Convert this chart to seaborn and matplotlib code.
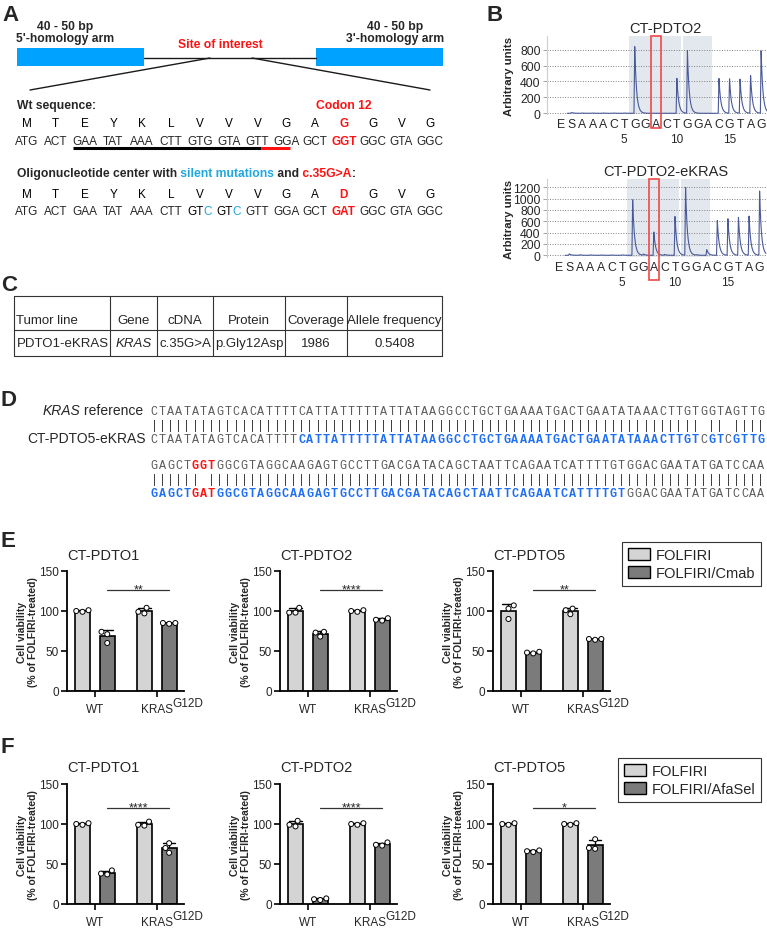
import numpy as np
import pandas as pd
import matplotlib
matplotlib.use('Agg')
import matplotlib.pyplot as plt
import matplotlib.transforms as mtransforms
from matplotlib.patches import Rectangle, Patch
import seaborn as sns

W, H = 767, 929

# ---------------- data ----------------
# A: donor oligo design around KRAS codon 12
arm_size = "40 - 50 bp"
wt_codons = ["ATG", "ACT", "GAA", "TAT", "AAA", "CTT", "GTG", "GTA", "GTT", "GGA", "GCT", "GGT", "GGC", "GTA", "GGC"]
wt_aa = ["M", "T", "E", "Y", "K", "L", "V", "V", "V", "G", "A", "G", "G", "V", "G"]
oligo_codons = ["ATG", "ACT", "GAA", "TAT", "AAA", "CTT", "GTC", "GTC", "GTT", "GGA", "GCT", "GAT", "GGC", "GTA", "GGC"]
oligo_aa = ["M", "T", "E", "Y", "K", "L", "V", "V", "V", "G", "A", "D", "G", "V", "G"]
codon12_idx = 11
guide_nt = (6, 25)      # protospacer, nucleotide index in the wt row
pam_nt = (26, 28)

# B: pyrograms
dispensation = list("ESAAACTGGACTGGACGTAG")
disp_pos = list(range(-1, 19))
peaks_pdto2 = [0, 10, 4, 3, 3, 3, 3, 840, 0, 0, 0, 440, 800, 0, 0, 440, 440, 430, 480, 790]
peaks_pdto2_ekras = [0, 25, 10, 8, 6, 6, 8, 980, 20, 410, 15, 685, 1210, 10, 100, 615, 655, 670, 700, 1140]
variable_region = [(5.5, 10.42), (10.58, 13.3)]
mutated_disp = 8

# C: NGS table
table_header = ["Tumor line", "Gene", "cDNA", "Protein", "Coverage", "Allele frequency"]
table_row = ["PDTO1-eKRAS", "KRAS", "c.35G>A", "p.Gly12Asp", "1986", "0.5408"]

# D: alignment
kras_ref = ("CTAATATAGTCACATTTTCATTATTTTTATTATAAGGCCTGCTGAAAATGACTGAATATAAACTTGTGGTAGTTG"
            "GAGCTGGTGGCGTAGGCAAGAGTGCCTTGACGATACAGCTAATTCAGAATCATTTTGTGGACGAATATGATCCAA")
pdto5_ekras = ("CTAATATAGTCACATTTTCATTATTTTTATTATAAGGCCTGCTGAAAATGACTGAATATAAACTTGTCGTCGTTG"
               "GAGCTGATGGCGTAGGCAAGAGTGCCTTGACGATACAGCTAATTCAGAATCATTTTGTGGACGAATATGATCCAA")
donor_span = (18, 132)
codon12_nt = (80, 82)

# E / F: cell viability, replicates per bar (WT-FOLFIRI, WT-combo, KRAS-FOLFIRI, KRAS-combo)
genotypes = ["WT", "KRAS"]
organoids = ["CT-PDTO1", "CT-PDTO2", "CT-PDTO5"]
e_treatments = ["FOLFIRI", "FOLFIRI/Cmab"]
f_treatments = ["FOLFIRI", "FOLFIRI/AfaSel"]
e_pdto1 = [[101, 99, 100], [74, 60, 71], [104, 97, 99], [85, 84, 85]]
e_pdto2 = [[104, 98, 98], [73, 74, 68], [101, 100, 99], [88, 89, 91]]
e_pdto5 = [[107, 103, 90], [49, 47, 48], [103, 101, 96], [65, 64, 65]]
f_pdto1 = [[101, 99, 100], [42, 37, 38], [103, 98, 99], [76, 70, 64]]
f_pdto2 = [[104, 97, 99], [6, 5, 7], [101, 100, 99], [77, 74, 73]]
f_pdto5 = [[100, 99, 101], [66, 65, 67], [100, 99, 101], [81, 70, 69]]
e_stars = ["**", "****", "**"]
f_stars = ["****", "****", "*"]
e_ylabels = ["Cell viability\n(% of FOLFIRI-treated)", "Cell viability\n(% of FOLFIRI-treated)",
             "Cell viability\n(% Of FOLFIRI-treated)"]
f_ylabels = ["Cell viability\n(% of FOLFIRI-treated)"] * 3

# ---------------- style ----------------
sns.set_theme(style="ticks")
plt.rcParams['font.family'] = ['Liberation Sans', 'DejaVu Sans']
RED = '#ff1111'
CYAN = '#1ea7e1'
ARM_BLUE = '#00a2ff'
SEQ_BLUE = '#1f6ff5'
SEQ_GRAY = '#5a5a5a'
bar_colors = ['#d4d4d4', '#7b7b7b']

fig = plt.figure(figsize=(W / 100, H / 100), dpi=100)
fig.patch.set_facecolor('white')


def px_axes(x, y, w, h):
    return fig.add_axes([x / W, 1 - (y + h) / H, w / W, h / H])


canvas = px_axes(0, 0, W, H)
canvas.set_xlim(0, W)
canvas.set_ylim(H, 0)
canvas.axis('off')


def chained(ax, x, y, parts, ha='left', **kw):
    # multi-coloured text: invisible full string fixes the anchor, parts follow each other
    full = ''.join(p[0] for p in parts)
    anchor = ax.text(x, y, full, ha=ha, va='baseline', alpha=0, **kw)
    prev, xy, out = anchor, (0, 0), []
    for s, style in parts:
        t = ax.annotate(s, xy=xy, xycoords=prev, ha='left', va='bottom', **{**kw, **style})
        out.append(t)
        prev, xy = t, (1, 0)
    return out


for letter, (lx, ly) in {"A": (2, 21), "B": (486, 21), "C": (1, 291),
                         "D": (1, 406), "E": (1, 547), "F": (1, 753)}.items():
    canvas.text(lx, ly, letter, fontsize=16, fontweight='bold', va='baseline')

# ---------------- A ----------------
lab_kw = dict(fontsize=8.7, fontweight='bold', va='baseline')
for x in (17, 316):
    canvas.add_patch(Rectangle((x, 49), 127, 18, color=ARM_BLUE, lw=0))
canvas.plot([144, 316], [59, 59], color='k', lw=1)
canvas.plot([210, 30], [59, 91], color='k', lw=1)
canvas.plot([252, 430], [59, 91], color='k', lw=1)
for cx, arm in ((65, "5'-homology arm"), (395, "3'-homology arm")):
    canvas.text(cx, 30, arm_size, ha='center', **lab_kw)
    canvas.text(cx, 41.5, arm, ha='center', **lab_kw)
canvas.text(220, 48, "Site of interest", ha='center', color=RED, **lab_kw)

codon_x0, codon_pitch, nt_w = 27, 28.8, 7.7
canvas.text(17, 109, "Wt sequence:", **lab_kw)
canvas.text(codon_x0 + codon12_idx * codon_pitch, 109, "Codon 12", ha='center', color=RED, **lab_kw)
chained(canvas, 17, 177, [("Oligonucleotide center with", {}), (" silent mutations", {'color': CYAN}),
                          (" and", {}), (" c.35G>A", {'color': RED}), (":", {})],
        fontsize=8.7, fontweight='bold')


def aa_row(aas, y):
    for i, aa in enumerate(aas):
        hl = i == codon12_idx
        canvas.text(codon_x0 + i * codon_pitch, y, aa, ha='center', va='baseline', fontsize=8.5,
                    color=RED if hl else 'black', fontweight='bold' if hl else 'normal')


def codon_row(codons, y, ref=None):
    for i, codon in enumerate(codons):
        x = codon_x0 + i * codon_pitch
        if i == codon12_idx:
            canvas.text(x, y, codon, ha='center', va='baseline', fontsize=8.5, color=RED, fontweight='bold')
            continue
        flags = [ref is not None and c != r for c, r in zip(codon, ref[i] if ref else codon)]
        parts = []
        for c, f in zip(codon, flags):
            if parts and parts[-1][1] == f:
                parts[-1][0] += c
            else:
                parts.append([c, f])
        if len(parts) == 1:
            canvas.text(x, y, codon, ha='center', va='baseline', fontsize=8.5)
        else:
            chained(canvas, x, y, [(s, {'color': CYAN if f else 'black'}) for s, f in parts],
                    ha='center', fontsize=8.5)


aa_row(wt_aa, 126.5)
codon_row(wt_codons, 144.5)
aa_row(oligo_aa, 197.5)
codon_row(oligo_codons, 214.5, ref=wt_codons)


def nt_x(n):
    return codon_x0 + (n // 3) * codon_pitch + (n % 3 - 1) * nt_w


for (a, b), c in ((guide_nt, 'black'), (pam_nt, RED)):
    canvas.plot([nt_x(a) - nt_w / 2, nt_x(b) + nt_w / 2], [148.5, 148.5], color=c, lw=2.2,
                solid_capstyle='butt')

# ---------------- B ----------------


def pyrogram(ax, heights, title, xlim, ylim, yticks, box_bottom):
    x = np.linspace(-0.4, 18.6, 4000)
    trace = np.zeros_like(x)
    for p, h in zip(disp_pos, heights):
        d = x - p
        trace += h * np.where(d < -0.07, 0, np.where(d < 0, (d + 0.07) / 0.07, np.exp(-d / 0.17)))
    for a, b in variable_region:
        ax.axvspan(a, b, color='#e3e7ee', lw=0, zorder=0)
    ax.plot(x, trace, color='#4a5a98', lw=0.8, zorder=2)
    ax.set_xlim(*xlim)
    ax.set_ylim(*ylim)
    ax.set_yticks(yticks)
    ax.xaxis.remove_overlapping_locs = False
    ax.set_xticks(disp_pos, labels=dispensation)
    ax.set_xticks(np.arange(5, 19, 5), labels=[str(v) for v in np.arange(5, 19, 5)], minor=True)
    ax.tick_params(axis='x', which='major', length=0, pad=3.0, labelsize=8.8)
    ax.tick_params(axis='x', which='minor', length=0, pad=13.5, labelsize=8.5)
    ax.tick_params(axis='y', length=3, width=0.6, color='#999999', pad=1.5, labelsize=8.8)
    ax.set_axisbelow(True)
    ax.yaxis.grid(True, ls=(0, (1, 1.6)), color='#808080', lw=0.7)
    ax.xaxis.grid(False)
    for s in ('top', 'right', 'bottom'):
        ax.spines[s].set_visible(False)
    ax.spines['left'].set_color('#cfcfcf')
    ax.spines['left'].set_linewidth(0.8)
    ax.set_facecolor('none')
    ax.set_title(title, fontsize=10.5, x=0.54, pad=3)
    ax.set_ylabel("Arbitrary units", fontsize=8.2, fontweight='bold')
    ax.yaxis.set_label_coords(-0.15, 0.5)
    trans = mtransforms.blended_transform_factory(ax.transData, ax.transAxes)
    ax.add_patch(Rectangle((mutated_disp - 0.5, box_bottom), 1, 1 - box_bottom, transform=trans,
                           fill=False, ec='#f04848', lw=1.2, clip_on=False, zorder=5))


ax_b1 = px_axes(547, 37, 220, 78)
pyrogram(ax_b1, peaks_pdto2, "CT-PDTO2", (-2.33, 18.56), (-9, 972), [0, 200, 400, 600, 800], -0.18)
ax_b2 = px_axes(547, 180, 220, 78)
pyrogram(ax_b2, peaks_pdto2_ekras, "CT-PDTO2-eKRAS", (-2.1, 18.7), (-30, 1345),
         [0, 200, 400, 600, 800, 1000, 1200], -0.30)

# ---------------- C ----------------
col_edges = [14, 110, 157, 213, 285, 347, 442]
row_edges = [297, 331, 357]
for x in col_edges:
    canvas.plot([x, x], [row_edges[0], row_edges[-1]], color='#333333', lw=0.8)
for y in row_edges:
    canvas.plot([col_edges[0], col_edges[-1]], [y, y], color='#333333', lw=0.8)
for row, y in ((table_header, 323.7), (table_row, 346.7)):
    for j, val in enumerate(row):
        if j == 0:
            x, ha = col_edges[0] + 2.5, 'left'
        else:
            x, ha = (col_edges[j] + col_edges[j + 1]) / 2, 'center'
        canvas.text(x, y, val, ha=ha, va='baseline', fontsize=9.5,
                    style='italic' if val == "KRAS" else 'normal')

# ---------------- D ----------------
seq_line, seq_x0, seq_pitch = 75, 150, 8.2
block_y = [411, 465]
mono = dict(family='Liberation Mono', fontsize=8.5, ha='center')
for b, y0 in enumerate(block_y):
    for k in range(seq_line):
        i = b * seq_line + k
        x = seq_x0 + (k + 0.5) * seq_pitch
        r, m = kras_ref[i], pdto5_ekras[i]
        in_c12 = codon12_nt[0] <= i <= codon12_nt[1]
        in_donor = donor_span[0] <= i <= donor_span[1]
        canvas.text(x, y0 + 3.9, r, va='baseline', color=RED if in_c12 else SEQ_GRAY,
                    fontweight='bold' if in_c12 else 'normal', **mono)
        if r == m:
            canvas.text(x, y0 + 14.5, '|', va='center', color='#404040', **mono)
        if in_c12:
            c, w = RED, 'bold'
        elif in_donor and r == m:
            c, w = SEQ_BLUE, 'bold'
        else:
            c, w = SEQ_GRAY, 'normal'
        canvas.text(x, y0 + 28.5 + 3.9, m, va='baseline', color=c, fontweight=w, **mono)

ref_lab = canvas.text(143, block_y[0] + 3.6, " reference", ha='right', va='baseline', fontsize=10)
canvas.annotate("KRAS", xy=(0, 0), xycoords=ref_lab, ha='right', va='bottom', fontsize=10, style='italic')
canvas.text(146, block_y[0] + 28.5 + 3.6, "CT-PDTO5-eKRAS", ha='right', va='baseline', fontsize=10)

# ---------------- E / F ----------------


def viability_panel(ax, reps, treatments, title, stars, star_y, ylabel):
    rows = []
    keys = [(g, t) for g in genotypes for t in treatments]
    for (g, t), vals in zip(keys, reps):
        rows += [{"genotype": g, "treatment": t, "viability": v} for v in vals]
    df = pd.DataFrame(rows)
    sns.barplot(data=df, x="genotype", y="viability", hue="treatment", order=genotypes,
                hue_order=treatments, palette=bar_colors, width=0.8, gap=0.4, errorbar="sd",
                capsize=0.4, err_kws={"color": "black", "linewidth": 1.0, "zorder": 0.5},
                edgecolor="black", linewidth=1.2, legend=False, ax=ax)
    sns.swarmplot(data=df, x="genotype", y="viability", hue="treatment", order=genotypes,
                  hue_order=treatments, dodge=True, palette=["white", "white"], edgecolor="black",
                  linewidth=0.7, size=3.6, legend=False, ax=ax, zorder=3)
    off = 0.8 / 4
    ax.plot([off, 1 + off], [star_y, star_y], color='#333333', lw=0.9)
    ax.text(0.5 + off, star_y - 3, stars, ha='center', va='baseline', fontsize=9)
    ax.set_xlim(-0.45, 1.44)
    ax.set_ylim(0, 150)
    ax.set_yticks([0, 50, 100, 150])
    ax.set_xticks([0, 1], labels=["WT", "KRAS"])
    sns.despine(ax=ax)
    for s in ('left', 'bottom'):
        ax.spines[s].set_linewidth(1.3)
        ax.spines[s].set_color('black')
    ax.tick_params(axis='both', length=4, width=1.2, color='black', labelsize=8.5)
    ax.tick_params(axis='x', pad=4.5)
    ax.tick_params(axis='y', pad=2)
    lbl = ax.get_xticklabels()[1]
    ax.annotate("G12D", xy=(1, 0.45), xycoords=lbl, ha='left', va='bottom', fontsize=8.5,
                annotation_clip=False)
    ax.set_xlabel("")
    ax.set_ylabel(ylabel, fontsize=7.5, fontweight='bold', linespacing=1.1)
    ax.yaxis.set_label_coords(-0.25, 0.5)
    ax.set_title(title, fontsize=10.5, x=0.31, pad=9)
    ax.set_facecolor('none')


def treatment_legend(treatments, left_px, top_px):
    handles = [Patch(facecolor=c, edgecolor='black', linewidth=1) for c in bar_colors]
    leg = fig.legend(handles, treatments, loc='upper left', bbox_to_anchor=(left_px / W, 1 - top_px / H),
                     frameon=True, fancybox=False, edgecolor='black', fontsize=10.5, handlelength=1.5,
                     handleheight=0.9, borderpad=0.4, labelspacing=0.3, handletextpad=0.4,
                     borderaxespad=0)
    leg.get_frame().set_linewidth(0.8)


for k, (reps, stars, ylab) in enumerate(zip([e_pdto1, e_pdto2, e_pdto5], e_stars, e_ylabels)):
    viability_panel(px_axes(67 + 213 * k, 572, 117, 120), reps, e_treatments, organoids[k], stars, 126, ylab)
for k, (reps, stars, ylab) in enumerate(zip([f_pdto1, f_pdto2, f_pdto5], f_stars, f_ylabels)):
    viability_panel(px_axes(67 + 213 * k, 785, 117, 120), reps, f_treatments, organoids[k], stars, 120, ylab)

treatment_legend(e_treatments, 622, 543)
treatment_legend(f_treatments, 618, 759)

fig.savefig("out.png", dpi=100)
